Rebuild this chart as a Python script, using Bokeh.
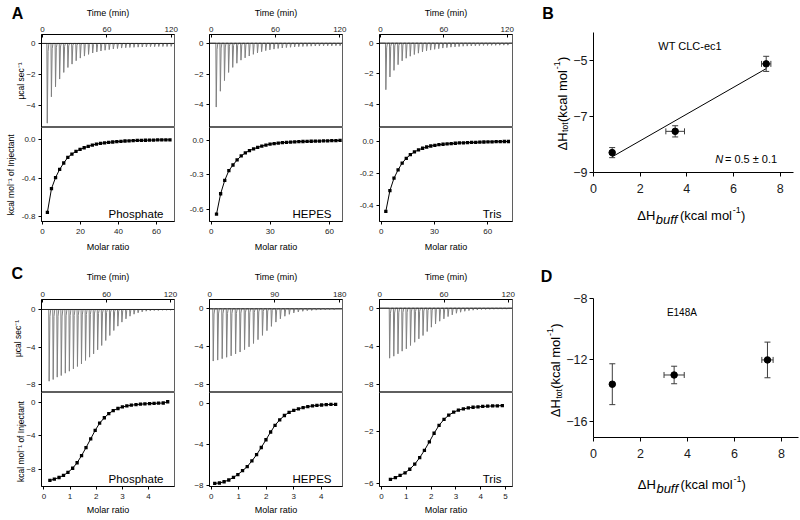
from math import pi
from bokeh.plotting import figure
from bokeh.layouts import row, column
from bokeh.core.properties import value
from bokeh.models import (Range1d, FixedTicker, PrintfTickFormatter, Label, Whisker,
                          ColumnDataSource, TeeHead, GridBox)
from bokeh.embed import file_html
from bokeh.resources import INLINE

FONT = "Liberation Sans"

# ---------------- data: panel A (WT, raw thermograms) ----------------
a_phos_t = [4.0, 7.85, 11.7, 15.55, 19.4, 23.25, 27.1, 30.95, 34.8, 38.65, 42.5, 46.35, 50.2, 54.05,
            57.9, 61.75, 65.6, 69.45, 73.3, 77.15, 81.0, 84.85, 88.7, 92.55, 96.4, 100.25, 104.1,
            107.95, 111.8, 115.65, 119.5]
a_phos_peak = [-5.17, -3.46, -2.81, -2.31, -1.88, -1.56, -1.34, -1.12, -0.95, -0.82, -0.71, -0.62,
               -0.55, -0.49, -0.44, -0.40, -0.36, -0.33, -0.30, -0.28, -0.26, -0.25, -0.24, -0.23,
               -0.22, -0.21, -0.21, -0.20, -0.20, -0.20, -0.19]
a_hepes_t = [4.3, 8.15, 12.0, 15.85, 19.7, 23.55, 27.4, 31.25, 35.1, 38.95, 42.8, 46.65, 50.5, 54.35,
             58.2, 62.05, 65.9, 69.75, 73.6, 77.45, 81.3, 85.15, 89.0, 92.85, 96.7, 100.55, 104.4,
             108.25, 112.1, 115.95, 119.8]
a_hepes_peak = [-4.15, -3.12, -2.43, -1.90, -1.57, -1.30, -1.10, -0.95, -0.83, -0.72, -0.63, -0.55,
                -0.48, -0.43, -0.38, -0.34, -0.31, -0.28, -0.26, -0.24, -0.22, -0.21, -0.20, -0.19,
                -0.18, -0.18, -0.17, -0.17, -0.17, -0.16, -0.16]
a_tris_t = [4.7, 8.55, 12.4, 16.25, 20.1, 23.95, 27.8, 31.65, 35.5, 39.35, 43.2, 47.05, 50.9, 54.75,
            58.6, 62.45, 66.3, 70.15, 74.0, 77.85, 81.7, 85.55, 89.4, 93.25, 97.1, 100.95, 104.8,
            108.65, 112.5, 116.35, 120.2]
a_tris_peak = [-3.03, -2.20, -1.77, -1.40, -1.15, -0.98, -0.85, -0.74, -0.65, -0.57, -0.50, -0.45,
               -0.40, -0.36, -0.32, -0.29, -0.26, -0.24, -0.22, -0.20, -0.19, -0.18, -0.17, -0.16,
               -0.15, -0.15, -0.14, -0.14, -0.13, -0.13, -0.13]

# ---------------- data: panel A (binding isotherms) ----------------
a_phos_mr = [2.6, 4.75, 6.9, 9.05, 11.2, 13.35, 15.5, 17.65, 19.8, 21.95, 24.1, 26.25, 28.4, 30.55,
             32.7, 34.85, 37.0, 39.15, 41.3, 43.45, 45.6, 47.75, 49.9, 52.05, 54.2, 56.35, 58.5,
             60.65, 62.8, 64.95, 67.1]
a_phos_dh = [-0.756, -0.51, -0.395, -0.31, -0.244, -0.186, -0.151, -0.124, -0.103, -0.086, -0.072,
             -0.058, -0.048, -0.041, -0.035, -0.030, -0.026, -0.022, -0.019, -0.016, -0.014, -0.012,
             -0.010, -0.009, -0.008, -0.007, -0.006, -0.005, -0.005, -0.004, -0.004]
a_hepes_mr = [2.7, 4.79, 6.88, 8.97, 11.06, 13.15, 15.24, 17.33, 19.42, 21.51, 23.6, 25.69, 27.78,
              29.87, 31.96, 34.05, 36.14, 38.23, 40.32, 42.41, 44.5, 46.59, 48.68, 50.77, 52.86,
              54.95, 57.04, 59.13, 61.22, 63.31, 65.4]
a_hepes_dh = [-0.645, -0.467, -0.350, -0.265, -0.216, -0.172, -0.137, -0.111, -0.090, -0.076, -0.062,
              -0.051, -0.042, -0.034, -0.029, -0.025, -0.021, -0.018, -0.016, -0.014, -0.012, -0.011,
              -0.010, -0.009, -0.008, -0.007, -0.006, -0.005, -0.004, -0.003, -0.002]
a_tris_mr = [2.6, 4.9, 7.2, 9.5, 11.8, 14.1, 16.4, 18.7, 21.0, 23.3, 25.6, 27.9, 30.2, 32.5, 34.8,
             37.1, 39.4, 41.7, 44.0, 46.3, 48.6, 50.9, 53.2, 55.5, 57.8, 60.1, 62.4, 64.7, 67.0,
             69.3, 71.6]
a_tris_dh = [-0.437, -0.308, -0.231, -0.179, -0.137, -0.108, -0.085, -0.068, -0.055, -0.045, -0.037,
             -0.031, -0.027, -0.023, -0.020, -0.018, -0.016, -0.014, -0.012, -0.011, -0.010, -0.009,
             -0.008, -0.007, -0.006, -0.005, -0.005, -0.004, -0.004, -0.003, -0.003]

# ---------------- data: panel C (E148A, raw thermograms) ----------------
c_phos_t = [5.6, 9.4, 13.2, 17.0, 20.8, 24.6, 28.4, 32.2, 36.0, 39.8, 43.6, 47.4, 51.2, 55.0, 58.8,
            62.6, 66.4, 70.2, 74.0, 77.8, 81.6, 85.4, 89.2, 93.0, 96.8, 100.6, 104.4, 108.2, 112.0,
            115.8, 119.6]
c_phos_peak = [-7.61, -7.43, -7.18, -7.01, -6.76, -6.55, -6.30, -6.05, -5.77, -5.41, -5.06, -4.71,
               -4.28, -3.82, -3.29, -2.76, -2.23, -1.77, -1.34, -0.99, -0.71, -0.50, -0.35, -0.25,
               -0.18, -0.14, -0.11, -0.11, -0.07, -0.07, -0.07]
c_hepes_t = [4.2, 10.4, 16.6, 22.8, 29.0, 35.2, 41.4, 47.6, 53.8, 60.0, 66.2, 72.4, 78.6, 84.8, 91.0,
             97.2, 103.4, 109.6, 115.8, 122.0, 128.2, 134.4, 140.6, 146.8, 153.0, 159.2, 165.4, 171.6]
c_hepes_peak = [-5.5, -5.4, -5.25, -5.1, -4.95, -4.75, -4.55, -4.3, -4.0, -3.65, -3.25, -2.8, -2.3,
                -1.85, -1.4, -1.05, -0.78, -0.58, -0.43, -0.33, -0.26, -0.2, -0.17, -0.14, -0.12,
                -0.11, -0.1, -0.1]
c_tris_t = [8.8, 12.7, 16.6, 20.5, 24.4, 28.3, 32.2, 36.1, 40.0, 43.9, 47.8, 51.7, 55.6, 59.5, 63.4,
            67.3, 71.2, 75.1, 79.0, 82.9, 86.8, 90.7, 94.6, 98.5, 102.4, 106.3, 110.2, 114.1, 118.0]
c_tris_peak = [-5.27, -5.06, -4.81, -4.53, -4.28, -3.93, -3.59, -3.23, -2.88, -2.46, -2.00, -1.65,
               -1.37, -1.12, -0.88, -0.70, -0.53, -0.42, -0.32, -0.25, -0.21, -0.18, -0.14, -0.13,
               -0.12, -0.11, -0.10, -0.10, -0.10]

# ---------------- data: panel C (binding isotherms) ----------------
c_phos_mr = [0.23, 0.40, 0.58, 0.75, 0.92, 1.10, 1.27, 1.44, 1.61, 1.79, 1.96, 2.13, 2.31, 2.48, 2.65,
             2.83, 3.00, 3.17, 3.34, 3.52, 3.69, 3.86, 4.04, 4.21, 4.38, 4.56, 4.73]
c_phos_dh = [-9.3, -9.15, -8.95, -8.7, -8.35, -7.85, -7.2, -6.35, -5.4, -4.35, -3.35, -2.5, -1.85,
             -1.35, -1.0, -0.75, -0.57, -0.45, -0.36, -0.29, -0.24, -0.2, -0.17, -0.14, -0.12, -0.1,
             0.05]
c_hepes_mr = [0.13, 0.30, 0.47, 0.64, 0.81, 0.97, 1.14, 1.31, 1.48, 1.65, 1.82, 1.99, 2.16, 2.32,
              2.49, 2.66, 2.83, 3.0, 3.17, 3.34, 3.51, 3.68, 3.84, 4.01, 4.18, 4.35, 4.52]
c_hepes_dh = [-7.78, -7.74, -7.62, -7.45, -7.2, -6.92, -6.55, -6.15, -5.6, -5.0, -4.3, -3.55, -2.8,
              -2.15, -1.62, -1.2, -0.9, -0.7, -0.55, -0.43, -0.34, -0.27, -0.22, -0.18, -0.15, -0.13,
              -0.12]
c_tris_mr = [0.36, 0.56, 0.75, 0.95, 1.14, 1.34, 1.54, 1.73, 1.93, 2.12, 2.32, 2.52, 2.71, 2.91, 3.10,
             3.30, 3.50, 3.69, 3.89, 4.08, 4.28, 4.48, 4.67, 4.87]
c_tris_dh = [-5.65, -5.52, -5.35, -5.15, -4.88, -4.5, -4.0, -3.45, -2.8, -2.15, -1.55, -1.1, -0.78,
             -0.55, -0.4, -0.3, -0.23, -0.18, -0.15, -0.12, -0.1, -0.08, -0.07, -0.05]

# ---------------- data: panels B and D ----------------
b_x = [0.8, 3.5, 7.4]
b_y = [-8.29, -7.53, -5.12]
b_xerr = [0.0, 0.4, 0.2]
b_yerr = [0.18, 0.2, 0.27]
b_fit_x = [0.8, 7.4]
b_fit_y = [-8.44, -5.29]
d_x = [0.8, 3.43, 7.4]
d_y = [-13.58, -12.98, -12.0]
d_xerr = [0.0, 0.43, 0.24]
d_yerr = [1.33, 0.57, 1.16]

# tick labels
time_ticks_120 = [0, 60, 120]
time_ticks_180 = [0, 90, 180]
a_raw_yticks = [0, -2, -4]
c_raw_yticks = [0, -4, -8]
a_phos_yticks = [0.0, -0.4, -0.8]
a_hepes_yticks = [0.0, -0.3, -0.6]
a_tris_yticks = [0.0, -0.2, -0.4]
a_phos_xticks = [0, 20, 40, 60]
a_hepes_xticks = [0, 30, 60]
a_tris_xticks = [0, 30, 60]
c_phos_yticks = [0, -4, -8]
c_hepes_yticks = [0, -4, -8]
c_tris_yticks = [-2, -6]
c_phos_xticks = [0, 1, 2, 3, 4, 5]
c_hepes_xticks = [0, 1, 2, 3, 4]
c_tris_xticks = [0, 1, 2, 3, 4, 5]
b_xticks = [0, 2, 4, 6, 8]
b_yticks = [-9, -7, -5]
d_xticks = [0, 2, 4, 6, 8]
d_yticks = [-16, -12, -8]

FRAME_W = 133
W, H = 800, 520


def lab(p, x, y, text, dx=0, dy=0, size="9px", align="center", baseline="middle",
        angle=0.0, style="normal"):
    """Label in data units (inside a frame)."""
    p.add_layout(Label(x=x, y=y, x_offset=dx, y_offset=dy, text=text, text_font=FONT,
                       text_font_size=size, text_align=align, text_baseline=baseline,
                       angle=angle, text_font_style=style, text_color="black"))


def style_axis(ax, ticks, size="8px", tin=0, tout=3, standoff=3, fmt=None):
    ax.ticker = FixedTicker(ticks=ticks)
    ax.major_label_text_font = FONT
    ax.major_label_text_font_size = size
    ax.major_label_text_color = "#1a1a1a"
    ax.axis_line_color = "black"
    ax.major_tick_line_color = "black"
    ax.minor_tick_line_color = None
    ax.major_tick_in = tin
    ax.major_tick_out = tout
    ax.major_label_standoff = standoff
    if fmt:
        ax.formatter = PrintfTickFormatter(format=fmt)


def base_fig(w, h, xr, yr, bl, br, bt, bb, xloc):
    p = figure(width=w, height=h, x_range=Range1d(*xr), y_range=Range1d(*yr),
               x_axis_location=xloc, output_backend="svg", toolbar_location=None, title=None,
               min_border_left=bl, min_border_right=br, min_border_top=bt, min_border_bottom=bb)
    p.grid.visible = False
    p.outline_line_color = "#1a1a1a"
    p.outline_line_width = 0.7
    p.background_fill_color = "white"
    p.border_fill_color = "white"
    return p


def raw_fig(w, bl, br, bt, xr, yr, times, peaks, tticks, yticks):
    p = base_fig(w, bt + 93, xr, yr, bl, br, bt, 0, "above")
    wpx = (xr[1] - xr[0]) / FRAME_W  # minutes per pixel
    xs, ys = [xr[0]], [0.0]
    for t, pk in zip(times, peaks):
        xs += [t, t + 0.4 * wpx, t + 1.2 * wpx, t + 2.0 * wpx]
        ys += [0.0, pk, 0.1 * pk, 0.0]
    xs.append(xr[1])
    ys.append(0.0)
    p.line(xs, ys, line_color="#808080", line_width=1)
    p.line([xr[0], xr[1]], [0, 0], line_color="#222222", line_width=1)
    style_axis(p.xaxis[0], tticks, tin=3, tout=0, standoff=3)
    style_axis(p.yaxis[0], yticks, tin=0, tout=3, standoff=3)
    return p


def iso_fig(w, bl, br, bb, xr, yr, mr, dh, xticks, yticks, name, fmt=None):
    p = base_fig(w, 94 + bb, xr, yr, bl, br, 0, bb, "below")
    p.line(mr, dh, line_color="black", line_width=1)
    p.scatter(mr, dh, marker="square", size=3.3, color="black", line_color=None)
    style_axis(p.xaxis[0], xticks, tin=0, tout=3, standoff=4)
    style_axis(p.yaxis[0], yticks, tin=0, tout=3, standoff=3, fmt=fmt)
    lab(p, xr[1], yr[0], name, dx=-11, dy=8, size="11.5px", align="right", baseline="alphabetic")
    return p


# ---------------- Row 1: panel A ----------------
a1t = raw_fig(180, 41, 6, 34, (-1.0, 123.0), (-5.45, 0.58), a_phos_t, a_phos_peak,
              time_ticks_120, a_raw_yticks)
a1b = iso_fig(180, 41, 6, 30, (-0.5, 69.5), (-0.85, 0.124), a_phos_mr, a_phos_dh,
              a_phos_xticks, a_phos_yticks, "Phosphate", fmt="%.1f")
a2t = raw_fig(172, 29, 10, 34, (-1.6, 122.5), (-5.48, 0.57), a_hepes_t, a_hepes_peak,
              time_ticks_120, a_raw_yticks)
a2b = iso_fig(172, 29, 10, 30, (-0.86, 66.65), (-0.709, 0.111), a_hepes_mr, a_hepes_dh,
              a_hepes_xticks, a_hepes_yticks, "HEPES", fmt="%.1f")
a3t = raw_fig(178, 27, 18, 34, (-0.95, 125.0), (-5.49, 0.565), a_tris_t, a_tris_peak,
              time_ticks_120, a_raw_yticks)
a3b = iso_fig(178, 27, 18, 30, (-0.96, 73.9), (-0.5, 0.084), a_tris_mr, a_tris_dh,
              a_tris_xticks, a_tris_yticks, "Tris", fmt="%.1f")

# ---------------- Row 2: panel C ----------------
c1t = raw_fig(180, 41, 6, 48, (-1.2, 123.8), (-8.81, 1.06), c_phos_t, c_phos_peak,
              time_ticks_120, c_raw_yticks)
c1b = iso_fig(180, 41, 6, 34, (-0.09, 4.99), (-10.02, 1.15), c_phos_mr, c_phos_dh,
              c_phos_xticks, c_phos_yticks, "Phosphate")
c2t = raw_fig(172, 29, 10, 48, (-0.4, 183.8), (-8.81, 0.98), c_hepes_t, c_hepes_peak,
              time_ticks_180, c_raw_yticks)
c2b = iso_fig(172, 29, 10, 34, (-0.06, 4.77), (-8.08, 1.03), c_hepes_mr, c_hepes_dh,
              c_hepes_xticks, c_hepes_yticks, "HEPES")
c3t = raw_fig(178, 27, 18, 48, (-0.3, 124.0), (-8.89, 0.92), c_tris_t, c_tris_peak,
              time_ticks_120, c_raw_yticks)
c3b = iso_fig(178, 27, 18, 34, (-0.08, 5.28), (-6.19, 0.94), c_tris_mr, c_tris_dh,
              c_tris_xticks, c_tris_yticks, "Tris")


# ---------------- panels B and D ----------------
def dh_fig(h, bt, bb, br, frame_w, xr, yr, xticks, yticks):
    p = figure(width=63 + frame_w + br, height=h, x_range=Range1d(*xr), y_range=Range1d(*yr),
               output_backend="svg", toolbar_location=None, title=None,
               min_border_left=63, min_border_right=br, min_border_top=bt, min_border_bottom=bb)
    p.grid.visible = False
    p.outline_line_color = None
    style_axis(p.xaxis[0], xticks, size="12.5px", tin=0, tout=4, standoff=7)
    style_axis(p.yaxis[0], yticks, size="12.5px", tin=0, tout=4, standoff=2)
    return p


def err_bars(p, xs, ys, xerr, yerr):
    src = ColumnDataSource(dict(
        x=xs, y=ys,
        ylo=[y - e for y, e in zip(ys, yerr)], yhi=[y + e for y, e in zip(ys, yerr)],
        xlo=[x - e for x, e in zip(xs, xerr)], xhi=[x + e for x, e in zip(xs, xerr)]))
    col = "#3c3c3c"
    for base, lo, hi, dim in (("x", "ylo", "yhi", "height"), ("y", "xlo", "xhi", "width")):
        p.add_layout(Whisker(source=src, base=base, lower=lo, upper=hi, dimension=dim,
                             line_color=col, line_width=1,
                             upper_head=TeeHead(size=6, line_color=col, line_width=1),
                             lower_head=TeeHead(size=6, line_color=col, line_width=1)))
    p.scatter(xs, ys, size=6.5, color="black")


pb = dh_fig(251, 32, 79, 7, 200, (0, 8.57), (-9, -4), b_xticks, b_yticks)
pb.line(b_fit_x, b_fit_y, line_color="black", line_width=1)
err_bars(pb, b_x, b_y, b_xerr, b_yerr)
lab(pb, 4.14, -4.49, "WT CLC-ec1", size="11px")
lab(pb, 8.0, -8.52, " = 0.5 ± 0.1", size="11px", align="right")
lab(pb, 8.0, -8.52, "N", dx=-57, size="11px", align="right", style="italic")

pd = dh_fig(269, 47, 83, 2, 205, (0, 8.72), (-17.05, -8), d_xticks, d_yticks)
err_bars(pd, d_x, d_y, d_xerr, d_yerr)
lab(pd, 3.76, -8.91, "E148A", size="10px")

# ---------------- transparent text overlay (page pixel coordinates) ----------------
ov = figure(width=W, height=H, x_range=Range1d(0, W), y_range=Range1d(0, H),
            x_axis_location=None, y_axis_location=None, output_backend="svg",
            toolbar_location=None, title=None, min_border=0,
            min_border_left=0, min_border_right=0, min_border_top=0, min_border_bottom=0)
ov.grid.visible = False
ov.outline_line_color = None
ov.background_fill_alpha = 0
ov.border_fill_alpha = 0


def otext(x, y, text, size="9px", align="center", baseline="middle", angle=0.0, style="normal"):
    ov.text(x=[x], y=[H - y], text=[text], text_font=value(FONT), text_font_size=value(size),
            text_align=value(align), text_baseline=value(baseline), angle=angle,
            text_font_style=value(style), text_color="black")


# panel letters
otext(17, 13, "A", size="16px", style="bold")
otext(547.5, 13, "B", size="16px", style="bold")
otext(16.7, 273, "C", size="16px", style="bold")
otext(546, 276, "D", size="16px", style="bold")

# ITC axis titles
for cx in (107.5, 275.5, 445.5):
    otext(cx, 12, "Time (min)")
    otext(cx, 246, "Molar ratio")
    otext(cx, 276, "Time (min)")
    otext(cx, 509.5, "Molar ratio")
otext(20, 80.5, "μcal sec⁻¹", size="8.5px", angle=pi / 2)
otext(10.5, 174.4, "kcal mol⁻¹ of Injectant", size="8.5px", angle=pi / 2)
otext(17, 338, "μcal sec⁻¹", size="8.5px", angle=pi / 2)
otext(20, 441, "kcal mol⁻¹ of Injectant", size="8.5px", angle=pi / 2)


def dh_axis_titles(xl_x, xl_y, yl_x, yl_y):
    # x title: ΔH_buff (kcal mol-1)
    otext(xl_x, xl_y, "ΔH", size="13px", align="left", baseline="alphabetic")
    otext(xl_x + 18.6, xl_y + 4, "buff", size="13px", align="left", baseline="alphabetic",
          style="italic")
    otext(xl_x + 42.8, xl_y, "(kcal mol", size="13px", align="left", baseline="alphabetic")
    otext(xl_x + 95.6, xl_y - 5.5, "-1", size="9px", align="left", baseline="alphabetic")
    otext(xl_x + 103.8, xl_y, ")", size="13px", align="left", baseline="alphabetic")
    # y title: ΔH_tot(kcal mol-1), reading upwards
    otext(yl_x, yl_y, "ΔH", size="13px", align="left", baseline="alphabetic", angle=pi / 2)
    otext(yl_x + 3, yl_y - 18.6, "tot", size="8.5px", align="left", baseline="alphabetic",
          angle=pi / 2)
    otext(yl_x, yl_y - 28.4, "(kcal mol", size="13px", align="left", baseline="alphabetic",
          angle=pi / 2)
    otext(yl_x - 5.5, yl_y - 81.2, "-1", size="9px", align="left", baseline="alphabetic",
          angle=pi / 2)
    otext(yl_x, yl_y - 89.4, ")", size="13px", align="left", baseline="alphabetic", angle=pi / 2)


dh_axis_titles(636.7, 214.5, 561.7, 150)
dh_axis_titles(637.3, 483.5, 555, 416.7)

row1 = row(column(a1t, a1b, spacing=0), column(a2t, a2b, spacing=0),
           column(a3t, a3b, spacing=0), pb, spacing=0)
row2 = row(column(c1t, c1b, spacing=0), column(c2t, c2b, spacing=0),
           column(c3t, c3b, spacing=0), pd, spacing=0)
main = column(row1, row2, spacing=0)

layout = GridBox(children=[(main, 0, 0), (ov, 0, 0)])

open("out.html", "w").write(file_html(layout, INLINE, title="ITC"))
